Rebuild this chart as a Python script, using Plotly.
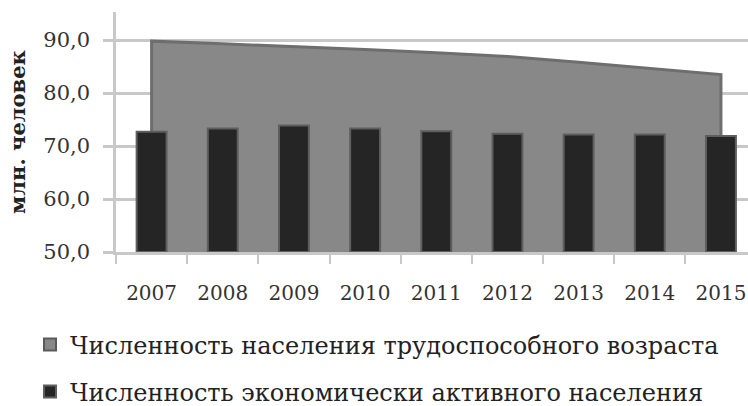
import plotly.graph_objects as go

# Годы и показатели (млн. человек)
years = ["2007", "2008", "2009", "2010", "2011", "2012", "2013", "2014", "2015"]
working_age = [89.8, 89.3, 88.8, 88.2, 87.6, 86.9, 85.8, 84.7, 83.5]
econ_active = [72.7, 73.3, 73.9, 73.3, 72.8, 72.3, 72.2, 72.2, 71.9]
y_ticks = [50, 60, 70, 80, 90]

name_area = "Численность населения трудоспособного возраста"
name_bars = "Численность экономически активного населения"
y_title = "млн. человек"

W, H = 748, 406
FONT = "DejaVu Serif"
GRID = "#c8c8c8"
AREA_FILL = "#888888"
AREA_EDGE = "#6e6e6e"
BAR_FILL = "#252525"
BAR_EDGE = "#5e5e5e"
Y_MIN, Y_MAX = 50, 95.3
X_RANGE = [-0.5, 8.38]

# Closed outline of the area: down to the base at both ends
area_x = [years[0]] + years + [years[-1]]
area_y = [Y_MIN] + working_age + [Y_MIN]

fig = go.Figure()

# Area on the base axes so that the bars (overlay axes) sit in front of it
fig.add_trace(go.Scatter(
    x=area_x, y=area_y, name=name_area,
    mode="lines", fill="toself",
    fillcolor=AREA_FILL,
    line=dict(color=AREA_EDGE, width=3),
    showlegend=False,
    xaxis="x", yaxis="y",
))

# Square legend key for the area series
fig.add_trace(go.Bar(
    x=[None], y=[None], name=name_area,
    marker=dict(color=AREA_FILL, line=dict(color="#5a5a5a", width=2)),
    legend="legend",
    xaxis="x", yaxis="y",
))

fig.add_trace(go.Bar(
    x=years, y=[v - Y_MIN for v in econ_active], base=Y_MIN,
    name=name_bars, width=0.42,
    marker=dict(color=BAR_FILL, line=dict(color=BAR_EDGE, width=2)),
    legend="legend2",
    xaxis="x2", yaxis="y2",
    hoverinfo="skip",
))

legend_font = dict(family=FONT, size=24, color="#222222")

fig.update_layout(
    width=W, height=H,
    margin=dict(l=116, r=0, t=12, b=154),
    paper_bgcolor="white", plot_bgcolor="white",
    separators=", ",
    font=dict(family=FONT, color="#333333"),
    showlegend=True,
    xaxis=dict(
        type="category", categoryorder="array", categoryarray=years,
        range=X_RANGE, automargin=False,
        showgrid=False, zeroline=False,
        showline=True, linecolor=GRID, linewidth=2.5,
        ticks="outside", tickson="boundaries", ticklen=9,
        tickcolor=GRID, tickwidth=2,
        tickfont=dict(family=FONT, size=20, color="#333333"),
        ticklabelstandoff=21,
    ),
    yaxis=dict(
        range=[Y_MIN, Y_MAX], automargin=False,
        tickvals=y_ticks, tickformat=".1f",
        showgrid=True, gridcolor=GRID, gridwidth=2.5,
        zeroline=False,
        showline=True, linecolor=GRID, linewidth=2.5,
        ticks="outside", ticklen=10, tickcolor=GRID, tickwidth=2.5,
        tickfont=dict(family=FONT, size=21, color="#333333"),
        ticklabelstandoff=9,
    ),
    xaxis2=dict(
        type="category", categoryorder="array", categoryarray=years,
        range=X_RANGE, overlaying="x", visible=False, automargin=False,
    ),
    yaxis2=dict(
        range=[Y_MIN, Y_MAX], overlaying="y", visible=False, automargin=False,
    ),
    legend=dict(
        orientation="h",
        xref="container", yref="container",
        x=30 / W, y=1 - 345 / H, xanchor="left", yanchor="middle",
        font=legend_font, bgcolor="rgba(0,0,0,0)",
    ),
    legend2=dict(
        orientation="h",
        xref="container", yref="container",
        x=30 / W, y=1 - 392 / H, xanchor="left", yanchor="middle",
        font=legend_font, bgcolor="rgba(0,0,0,0)",
    ),
    annotations=[dict(
        text="<b>" + y_title + "</b>",
        xref="paper", yref="paper",
        x=(17 - 116) / (W - 116), y=(252 - 132) / 240,
        xanchor="center", yanchor="middle",
        textangle=-90, showarrow=False,
        font=dict(family=FONT, size=21, color="#222222"),
    )],
)

fig.write_html("out.html")
